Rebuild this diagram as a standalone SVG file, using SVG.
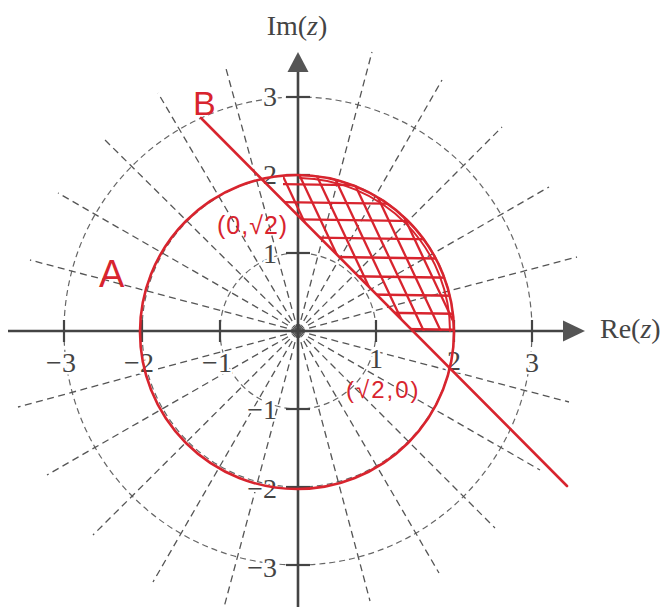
<svg xmlns="http://www.w3.org/2000/svg" width="665" height="607" viewBox="0 0 665 607">
<style>
.grid{fill:none;stroke:#555;stroke-width:1.3;stroke-dasharray:7 4.5}
.ring{fill:none;stroke:#666;stroke-width:1.2;stroke-dasharray:6 4}
.axis{stroke:#444;stroke-width:2.6;fill:none}
.tick{stroke:#444;stroke-width:2.2}
.lab{font-family:"Liberation Serif","Times New Roman",serif;font-size:28px;fill:#444;stroke:#fff;stroke-width:5;paint-order:stroke;stroke-linejoin:round}
.title{font-family:"Liberation Serif","Times New Roman",serif;font-size:28px;fill:#444}
.red{stroke:#d8242e;fill:none;stroke-linecap:round;stroke-linejoin:round}
.hatch{stroke:#d8242e;stroke-width:2.3;fill:none}
.hand{font-family:"Liberation Sans","DejaVu Sans",sans-serif;fill:#d8242e}
</style>
<defs>
<clipPath id="seg">
<path d="M283,201 L413,331 L453,331 A155,155 0 0 0 283,176.7 Z"/>
</clipPath>
</defs>
<rect width="665" height="607" fill="#fff"/>

<g id="polar-grid">
<circle class="ring" cx="298" cy="331" r="78"/>
<circle class="ring" cx="298" cy="331" r="156"/>
<circle class="ring" cx="298" cy="331" r="234"/>
<g id="spokes">
<path class="grid" d="M298,331 L577,257"/>
<path class="grid" d="M298,331 L549,187"/>
<path class="grid" d="M298,331 L502,127"/>
<path class="grid" d="M298,331 L442,80"/>
<path class="grid" d="M298,331 L372,52"/>
<path class="grid" d="M298,331 L225,65"/>
<path class="grid" d="M298,331 L158,93"/>
<path class="grid" d="M298,331 L102,137"/>
<path class="grid" d="M298,331 L58,193"/>
<path class="grid" d="M298,331 L30,260"/>
<path class="grid" d="M298,331 L18,407"/>
<path class="grid" d="M298,331 L47,475"/>
<path class="grid" d="M298,331 L93,535"/>
<path class="grid" d="M298,331 L153,582"/>
<path class="grid" d="M298,331 L223,611"/>
<path class="grid" d="M298,331 L370,601"/>
<path class="grid" d="M298,331 L439,573"/>
<path class="grid" d="M298,331 L495,528"/>
<path class="grid" d="M298,331 L540,470"/>
<path class="grid" d="M298,331 L569,402"/>
</g>
</g>

<g id="axes">
<line class="axis" x1="8" y1="331" x2="566" y2="331"/>
<polygon points="585,331 563,320.5 563,341.5" fill="#555"/>
<line class="axis" x1="298" y1="607" x2="298" y2="70"/>
<polygon points="298,52 287.5,72 308.5,72" fill="#555"/>
<g id="ticks">
<line class="tick" x1="64" y1="320" x2="64" y2="342"/>
<line class="tick" x1="142" y1="320" x2="142" y2="342"/>
<line class="tick" x1="220" y1="320" x2="220" y2="342"/>
<line class="tick" x1="376" y1="320" x2="376" y2="342"/>
<line class="tick" x1="454" y1="320" x2="454" y2="342"/>
<line class="tick" x1="532" y1="320" x2="532" y2="342"/>
<line class="tick" x1="286" y1="97" x2="310" y2="97"/>
<line class="tick" x1="286" y1="175" x2="310" y2="175"/>
<line class="tick" x1="286" y1="253" x2="310" y2="253"/>
<line class="tick" x1="286" y1="409" x2="310" y2="409"/>
<line class="tick" x1="286" y1="487" x2="310" y2="487"/>
<line class="tick" x1="286" y1="565" x2="310" y2="565"/>
</g>
<g id="tick-labels">
<text class="lab" x="61" y="372" text-anchor="middle">−3</text>
<text class="lab" x="139" y="372" text-anchor="middle">−2</text>
<text class="lab" x="217" y="372" text-anchor="middle">−1</text>
<text class="lab" x="376" y="368" text-anchor="middle">1</text>
<text class="lab" x="454" y="370" text-anchor="middle">2</text>
<text class="lab" x="532" y="372" text-anchor="middle">3</text>
<text class="lab" x="277" y="106" text-anchor="end">3</text>
<text class="lab" x="277" y="184" text-anchor="end">2</text>
<text class="lab" x="277" y="263" text-anchor="end">1</text>
<text class="lab" x="277" y="419" text-anchor="end">−1</text>
<text class="lab" x="277" y="498" text-anchor="end">−2</text>
<text class="lab" x="277" y="577" text-anchor="end">−3</text>
</g>
<text class="title" x="297" y="35" text-anchor="middle">Im(<tspan font-style="italic">z</tspan>)</text>
<text class="title" x="600" y="338">Re(<tspan font-style="italic">z</tspan>)</text>
</g>

<g id="region-hatch" clip-path="url(#seg)">
<line class="hatch" x1="270" y1="184" x2="470" y2="187"/>
<line class="hatch" x1="270" y1="202" x2="470" y2="205"/>
<line class="hatch" x1="270" y1="219" x2="470" y2="222"/>
<line class="hatch" x1="270" y1="237" x2="470" y2="240"/>
<line class="hatch" x1="270" y1="256" x2="470" y2="259"/>
<line class="hatch" x1="270" y1="275" x2="470" y2="278"/>
<line class="hatch" x1="270" y1="293" x2="470" y2="296"/>
<line class="hatch" x1="270" y1="311" x2="470" y2="314"/>
<line class="hatch" x1="270" y1="327" x2="470" y2="330"/>
<line class="hatch" x1="212" y1="170" x2="292" y2="340"/>
<line class="hatch" x1="229" y1="170" x2="309" y2="340"/>
<line class="hatch" x1="246" y1="170" x2="326" y2="340"/>
<line class="hatch" x1="263" y1="170" x2="343" y2="340"/>
<line class="hatch" x1="280" y1="170" x2="360" y2="340"/>
<line class="hatch" x1="297" y1="170" x2="377" y2="340"/>
<line class="hatch" x1="314" y1="170" x2="394" y2="340"/>
<line class="hatch" x1="331" y1="170" x2="411" y2="340"/>
<line class="hatch" x1="348" y1="170" x2="428" y2="340"/>
<line class="hatch" x1="365" y1="170" x2="445" y2="340"/>
<line class="hatch" x1="382" y1="170" x2="462" y2="340"/>
<line class="hatch" x1="399" y1="170" x2="479" y2="340"/>
<line class="hatch" x1="416" y1="170" x2="496" y2="340"/>
</g>

<g id="circle-A">
<circle class="red" cx="297" cy="332" r="157" stroke-width="2.6"/>
<path class="red" d="M300,178 A153,153 0 0 1 450,331" stroke-width="2"/>
<text class="hand" x="99" y="287" font-size="38">A</text>
</g>

<g id="line-B">
<line class="red" x1="201" y1="118" x2="567" y2="486" stroke-width="2.6"/>
<text class="hand" x="193" y="115" font-size="34">B</text>
</g>

<g id="point-labels">
<text class="hand" x="217" y="234" font-size="25" letter-spacing="1">(0,√2)</text>
<text class="hand" x="346" y="398" font-size="24" letter-spacing="2">(√2,0)</text>
</g>
</svg>
